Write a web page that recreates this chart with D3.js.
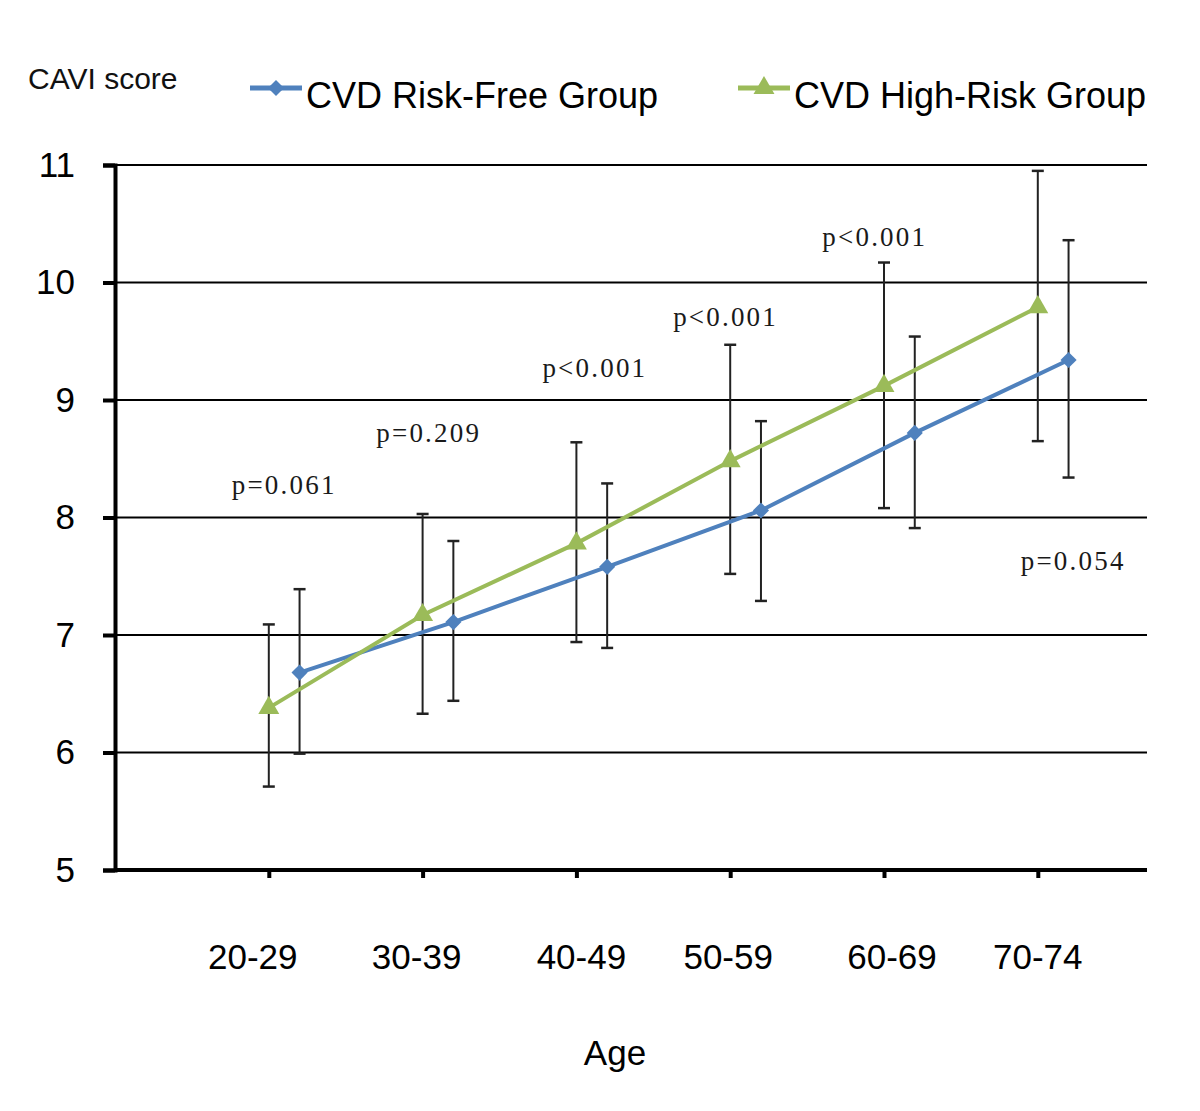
<!DOCTYPE html>
<html>
<head>
<meta charset="utf-8">
<script src="https://cdn.jsdelivr.net/npm/d3@7"></script>
<style>
  body { margin: 0; background: #fff; }
  text { font-family: Arial, "Liberation Sans", sans-serif; }
</style>
</head>
<body>
<svg id="chart-svg" width="1200" height="1111"></svg>
<script>
const ageGroups = ["20-29", "30-39", "40-49", "50-59", "60-69", "70-74"];
const yTicks = [5, 6, 7, 8, 9, 10, 11];

// CVD Risk-Free Group: mean and error bar ends
const freeMean = [6.68, 7.11, 7.58, 8.06, 8.72, 9.34];
const freeLow  = [5.99, 6.44, 6.89, 7.29, 7.91, 8.34];
const freeHigh = [7.39, 7.80, 8.29, 8.82, 9.54, 10.36];

// CVD High-Risk Group
const highMean = [6.38, 7.17, 7.78, 8.48, 9.12, 9.79];
const highLow  = [5.71, 6.33, 6.94, 7.52, 8.08, 8.65];
const highHigh = [7.09, 8.03, 8.64, 9.47, 10.17, 10.95];

const pLabels = ["p=0.061", "p=0.209", "p<0.001", "p<0.001", "p<0.001", "p=0.054"];
const pLabelValue = [8.28, 8.72, 9.28, 9.71, 10.39, 7.63];

const svg = d3.select("#chart-svg");
const plotLeft = 115, plotRight = 1147, plotTop = 165, plotBottom = 870;

const x = d3.scaleLinear().domain([-1, 5.71]).range([plotLeft, plotRight]);
const y = d3.scaleLinear().domain([5, 11]).range([plotBottom, plotTop]);

const series = [
  { name: "CVD Risk-Free Group", color: "#4F81BD", mean: freeMean, low: freeLow, high: freeHigh, dodge: 0.2, shape: "diamond" },
  { name: "CVD High-Risk Group", color: "#9BBB59", mean: highMean, low: highLow, high: highHigh, dodge: 0, shape: "triangle" }
];

function marker(shape) {
  if (shape === "diamond") return d3.symbol(d3.symbolSquare, 130)();
  return d3.symbol(d3.symbolTriangle, 190)();
}

// horizontal gridlines
svg.append("g")
  .selectAll("line")
  .data(yTicks.slice(1))
  .enter().append("line")
  .attr("x1", plotLeft).attr("x2", plotRight)
  .attr("y1", d => y(d)).attr("y2", d => y(d))
  .attr("stroke", "#000").attr("stroke-width", 2);

// y axis
const yAxis = svg.append("g")
  .attr("transform", `translate(${plotLeft},0)`)
  .call(d3.axisLeft(y).tickValues(yTicks).tickSize(12).tickPadding(28).tickFormat(d3.format("d")));
yAxis.select(".domain").attr("stroke", "#000").attr("stroke-width", 4);
yAxis.selectAll(".tick line").attr("stroke", "#000").attr("stroke-width", 4);
yAxis.selectAll(".tick text")
  .attr("fill", "#000")
  .style("font-family", "Arial, 'Liberation Sans', sans-serif")
  .style("font-size", "35px");

// x axis
const xAxis = svg.append("g")
  .attr("transform", `translate(0,${plotBottom})`)
  .call(d3.axisBottom(x).tickValues(d3.range(ageGroups.length)).tickSize(8).tickFormat(""));
xAxis.select(".domain").attr("stroke", "#000").attr("stroke-width", 4).attr("d", `M${plotLeft},0H${plotRight}`);
xAxis.selectAll(".tick line").attr("stroke", "#000").attr("stroke-width", 4);

// category labels (slightly uneven in the original)
const labelNudge = [-16, -6, 5, -2, 8, 0];
svg.append("g")
  .selectAll("text")
  .data(ageGroups)
  .enter().append("text")
  .attr("x", (d, i) => x(i) + labelNudge[i])
  .attr("y", 969)
  .attr("text-anchor", "middle")
  .style("font-size", "35px")
  .attr("fill", "#000")
  .text(d => d);

svg.append("text")
  .attr("x", 615).attr("y", 1065)
  .attr("text-anchor", "middle")
  .style("font-size", "35px")
  .text("Age");

svg.append("text")
  .attr("x", 28).attr("y", 89)
  .style("font-size", "30px")
  .attr("fill", "#111")
  .text("CAVI score");

// error bars
series.forEach(s => {
  const g = svg.append("g");
  ageGroups.forEach((a, i) => {
    const cx = x(i + s.dodge);
    g.append("line")
      .attr("x1", cx).attr("x2", cx)
      .attr("y1", y(s.low[i])).attr("y2", y(s.high[i]))
      .attr("stroke", "#222").attr("stroke-width", 2);
    [s.low[i], s.high[i]].forEach(v => {
      g.append("line")
        .attr("x1", cx - 6).attr("x2", cx + 6)
        .attr("y1", y(v)).attr("y2", y(v))
        .attr("stroke", "#222").attr("stroke-width", 2.5);
    });
  });
});

// lines and markers
series.forEach(s => {
  const line = d3.line()
    .x((d, i) => x(i + s.dodge))
    .y(d => y(d));
  svg.append("path")
    .datum(s.mean)
    .attr("d", line)
    .attr("fill", "none")
    .attr("stroke", s.color)
    .attr("stroke-width", 4);
  svg.append("g")
    .selectAll("path")
    .data(s.mean)
    .enter().append("path")
    .attr("d", marker(s.shape))
    .attr("transform", (d, i) => `translate(${x(i + s.dodge)},${y(d)})` + (s.shape === "diamond" ? " rotate(45)" : ""))
    .attr("fill", s.color);
});

// p-value annotations
const pShift = [0.1, 0.04, 0.12, -0.03, -0.06, 0.23];
svg.append("g")
  .selectAll("text")
  .data(pLabels)
  .enter().append("text")
  .attr("x", (d, i) => x(i + pShift[i]))
  .attr("y", (d, i) => y(pLabelValue[i]))
  .attr("dy", "0.35em")
  .attr("text-anchor", "middle")
  .style("font-family", "'Liberation Serif', 'DejaVu Serif', serif")
  .style("font-size", "27px")
  .style("letter-spacing", "2.2px")
  .attr("fill", "#1a1a1a")
  .text(d => d);

// legend
const legendX = [250, 738];
series.forEach((s, i) => {
  const lg = svg.append("g").attr("transform", `translate(${legendX[i]},88)`);
  lg.append("line")
    .attr("x1", 0).attr("x2", 52)
    .attr("stroke", s.color).attr("stroke-width", 5);
  lg.append("path")
    .attr("d", marker(s.shape))
    .attr("transform", "translate(26,0)" + (s.shape === "diamond" ? " rotate(45)" : ""))
    .attr("fill", s.color);
  lg.append("text")
    .attr("x", 56).attr("y", 7)
    .attr("dy", "0.36em")
    .style("font-size", "36px")
    .attr("fill", "#000")
    .text(s.name);
});
</script>
</body>
</html>
